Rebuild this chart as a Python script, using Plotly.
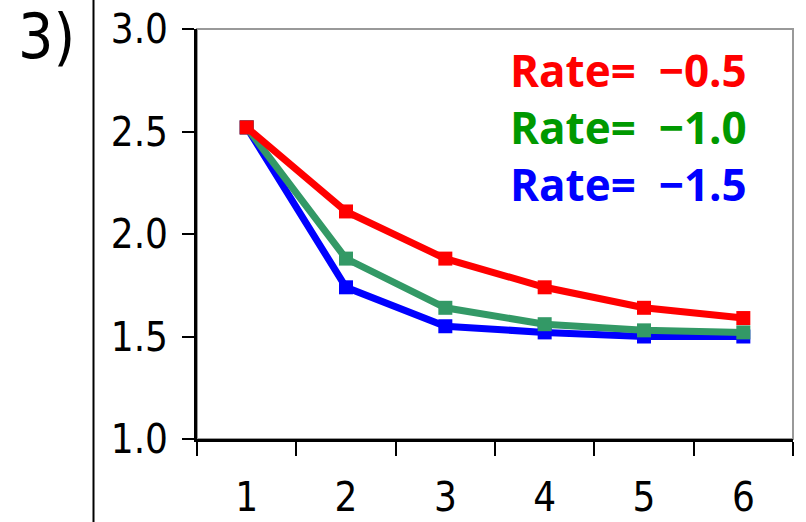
import plotly.graph_objects as go

categories = ["1", "2", "3", "4", "5", "6"]
rate_05 = [2.52, 2.11, 1.88, 1.74, 1.64, 1.59]
rate_10 = [2.52, 1.88, 1.64, 1.56, 1.53, 1.52]
rate_15 = [2.52, 1.74, 1.55, 1.52, 1.50, 1.50]
labels = ["Rate=\u00a0 \u22120.5", "Rate=\u00a0 \u22121.0", "Rate=\u00a0 \u22121.5"]
y_ticks = [1.0, 1.5, 2.0, 2.5, 3.0]
y_ticktext = ["1.0", "1.5", "2.0", "2.5", "3.0"]

W, H = 806, 522
L, R, T, B = 197, 13, 29, 83
pw, ph = W - L - R, H - T - B

def px(x):
    return (x - L) / pw

def py(y):
    return (H - B - y) / ph

fig = go.Figure()
series = [(rate_15, "#0000FF"), (rate_10, "#339966"), (rate_05, "#FF0000")]
for vals, col in series:
    fig.add_trace(go.Scatter(
        x=categories, y=vals, mode="lines+markers",
        line=dict(color=col, width=7),
        marker=dict(symbol="square", size=14, color=col),
        showlegend=False, cliponaxis=False,
    ))

tick_font = dict(family="DejaVu Sans Condensed, DejaVu Sans", size=40, color="black")

fig.update_layout(
    width=W, height=H,
    margin=dict(l=L, r=R, t=T, b=B, pad=0, autoexpand=False),
    paper_bgcolor="white", plot_bgcolor="white",
    xaxis=dict(
        type="category", tickson="boundaries", range=[-0.5, 5.5],
        showline=True, linecolor="black", linewidth=3,
        ticks="outside", ticklen=14, tickwidth=2, tickcolor="black",
        showgrid=False, zeroline=False, tickfont=tick_font,
        ticklabelstandoff=21, automargin=False,
    ),
    yaxis=dict(
        range=[1.0, 3.0], tickvals=y_ticks, ticktext=y_ticktext,
        showline=True, linecolor="black", linewidth=3,
        ticks="outside", ticklen=12, tickwidth=2, tickcolor="black",
        showgrid=False, zeroline=False, tickfont=tick_font,
        ticklabelstandoff=6, automargin=False,
    ),
    shapes=[
        dict(type="rect", xref="paper", yref="paper", x0=0, x1=1, y0=0, y1=1,
             line=dict(color="#999999", width=2), layer="below"),
        dict(type="line", xref="paper", yref="paper", x0=px(93.5), x1=px(93.5),
             y0=py(H + 5), y1=py(-5), line=dict(color="black", width=2)),
    ],
)

legend_colors = ["#FF0000", "#009900", "#0000FF"]
legend_text = "<br>".join(
    f"<span style='color:{c}'>{t}</span>" for t, c in zip(labels, legend_colors)
)
fig.add_annotation(
    text=legend_text, xref="paper", yref="paper", x=px(749), y=py(127),
    xanchor="right", yanchor="middle", align="right", showarrow=False,
    font=dict(family="Open Sans", size=44, color="black", weight="bold"),
)

fig.add_annotation(
    text="3)", xref="paper", yref="paper", x=px(16), y=py(36),
    xanchor="left", yanchor="middle", showarrow=False,
    font=dict(family="DejaVu Sans Condensed, DejaVu Sans", size=62, color="black"),
)

fig.write_html("out.html")
